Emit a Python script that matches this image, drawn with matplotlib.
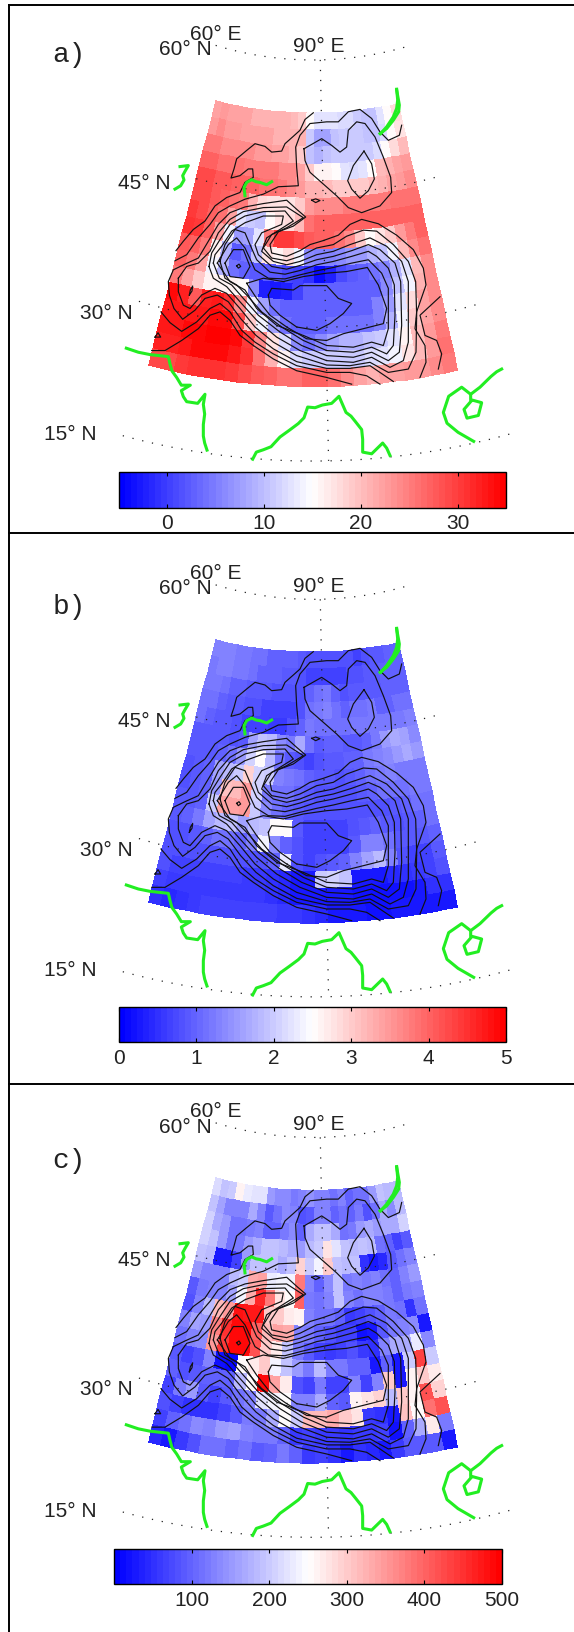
import numpy as np
import matplotlib
matplotlib.use('Agg')
import matplotlib.pyplot as plt
from matplotlib.colors import LinearSegmentedColormap

W = 574
H = 1633

# grid cell values, north to south, west to east
temp = [
    [22,23,22,22,22,21,21,21,21,21,20,19,15,13,13,13,12,12,11,10,10,13,15,18],
    [23,24,23,23,22,22,22,22,21,21,21,21,11,7.5,8,10,11,11,11,10,10,12,15,17],
    [25,25,24,24,24,24,23,23,22,22,21,19,10,9,10,11,11,11,11,11,12,15,18,20],
    [27,27,26,26,26,25,25,25,25,24,24,22,19,16,16,15,13,12,13,15,20,21,22,23],
    [29,29,28,28,27,27,27,26,26,25,24,23,21,21,20,19,19,19,19,20,21,22,23,24],
    [29,29,28,27,26,25,21,18,17,17,17,19,23,24,24,24,25,25,25,25,25,26,26,26],
    [30,29,27,26,22,13,11,10,15,17,18,20,26,27,27,27,27,27,27,27,27,27,27,27],
    [31,30,27,22,14,7,8,13,25,30,30,29,28,27,27,26,24,19,15,17,19,23,25,27],
    [28,27,25,16,9,2,4,10,17,16,18,14,6,5,5,6,7,7,9,10,14,20,24,26],
    [27,25,22,14,9,4,3,2,2,2,1,0,-1,-4,-2,1,2,3,4,5,9,13,20,24],
    [25,22,19,16,16,16,15,6,-2,-3,-2,0,3,3,3,3,3,3,3,6,10,14,21,24],
    [34,32,28,32,33,31,24,14,8,4,3,3,3,3,3,3,3,3,5,7,13,18,22,24],
    [33,33,33,33,34,34,29,19,14,8,4,3,3,3,4,4,4,4,5,9,14,19,22,24],
    [33,33,34,34,35,35,34,30,24,17,12,6,4,6,8,9,9,10,11,13,16,20,23,25],
    [32,32,33,34,34,34,33,31,26,21,16,12,11,11,11,11,11,12,13,14,17,20,23,26],
    [29,29,30,31,31,31,30,29,28,27,26,26,27,27,26,24,22,21,22,22,23,23,24,25],
]
rmse = [
    [1.3,1.3,1.3,1.2,1.2,1.1,1.1,1.0,1.0,1.0,1.0,.9,.8,.8,.8,.8,.8,.8,.7,.8,.9,.9,1.0,1.0],
    [1.2,1.3,1.3,1.2,1.2,1.1,1.0,1.0,1.0,.9,.9,.8,.7,.7,.7,.7,.7,.8,.8,.9,.9,1,1,1],
    [1.2,1.2,1.1,1,1,.9,.9,.9,.8,.8,.8,.8,1.0,1.1,1.2,1.0,.8,.9,.9,.9,.9,1,1,1],
    [1.1,1.1,1,.9,.9,.8,.8,.7,.7,.7,.7,.8,1.1,1.2,1.3,1.1,1,1.1,1.1,1.2,1.0,1.0,1.1,1.1],
    [1.1,1,.9,.9,.8,.7,.7,.7,.6,.6,.8,1,1.2,1.1,1.1,1.1,1.1,1.2,1.2,1.2,1.2,1.2,1.2,1.3],
    [.9,.9,.9,.9,.8,.9,1.6,1.9,1.8,1.4,1.2,1.7,1.1,.9,1.0,1.0,.9,.9,1.0,1.2,1.5,1.7,1.6,1.4],
    [.9,.9,.9,1,1.1,1.5,2.1,2.5,1.8,1.1,.9,.8,.7,.8,.9,.9,1,1,1.2,1.3,1.4,1.5,1.7,1.5],
    [.8,.9,1,1.6,1.8,2.0,2.9,2.1,2.0,1.3,1.2,1.1,1.0,.9,.9,.8,.9,1,1.1,1.2,1.3,1.2,1.2,1.2],
    [.8,.9,1,1.5,3.1,3.2,3.5,2.1,1.2,1.1,1.1,1.0,.9,.8,.8,.8,.8,.9,1,1.1,1.1,1.1,1.2,1.2],
    [.9,.9,1,2,3.4,3.4,3.5,2.0,1.4,1.1,1,.9,.8,.8,.8,.8,.8,.8,.8,.8,.9,1,1.1,1.1],
    [.9,1,1.2,1.6,1.8,1.9,1.6,1.8,1.9,2.5,2.5,.9,.7,.7,.7,.7,.8,.9,1,.9,.8,.9,1,1.1],
    [.8,.8,.9,1,1.1,1.1,1.0,1.3,2.4,1.4,1.0,.8,.7,.7,.7,.7,.9,1.3,1.3,1.1,.9,.9,.9,1],
    [.8,.8,.8,.8,.8,.8,.8,.8,.8,1,2.3,.8,.7,.8,.9,1,1.3,1.6,1.8,1.3,.8,.7,.7,.9],
    [.8,.7,.7,.7,.7,.7,.7,.6,.6,.5,.4,.3,.3,2.0,2.1,1.9,.3,.3,.3,.4,.5,.6,.7,.8],
    [.7,.6,.6,.6,.6,.6,.6,.6,.6,.5,.4,.3,.3,.3,.3,.3,.2,.2,.2,.2,.2,.3,.5,.5],
    [.5,.4,.5,.6,.7,.7,.7,.7,.7,.7,.6,.6,.5,.4,.3,.3,.3,.2,.2,.3,.3,.3,.3,.3],
]
precip = [
    [215,190,200,265,230,220,225,150,140,140,120,130,145,130,125,110,130,100,115,110,150,190,180,180],
    [190,160,130,130,130,170,130,90,110,140,130,80,90,130,130,100,110,100,120,85,110,170,140,180],
    [210,170,150,110,110,120,130,100,100,120,140,100,170,190,190,170,110,120,150,170,150,170,170,210],
    [210,190,150,110,120,150,170,190,190,180,170,150,180,200,280,220,190,180,190,180,110,100,70,90],
    [190,180,30,25,70,150,190,190,190,170,190,290,200,240,300,190,180,190,50,30,40,90,110,130],
    [150,130,130,130,180,200,330,340,230,240,240,380,130,100,140,190,120,130,120,130,110,100,130,150],
    [90,120,130,130,160,240,330,460,380,280,250,400,120,110,130,190,130,110,130,130,120,100,120,130],
    [80,130,180,320,350,480,470,470,300,300,270,260,130,110,110,100,60,70,80,100,120,110,50,110],
    [130,160,150,370,450,490,490,400,320,340,330,130,120,100,80,70,70,20,30,90,120,130,140,30],
    [110,130,140,350,440,490,490,420,300,270,190,120,90,70,60,70,80,60,50,130,170,170,230,140],
    [90,70,80,130,20,10,250,270,300,240,190,150,120,180,120,120,100,100,30,100,30,200,430,200],
    [100,80,90,100,100,100,180,250,490,340,270,80,70,120,70,70,130,70,130,300,30,260,300,270],
    [70,120,150,90,70,90,110,130,220,240,250,130,130,170,100,90,260,280,290,180,300,260,420,290],
    [80,70,50,50,50,70,90,120,120,170,250,200,320,320,330,300,280,60,50,30,310,250,390,420],
    [70,100,110,140,130,150,160,130,120,120,100,60,70,60,60,50,60,60,70,20,100,170,270,120],
    [40,30,60,80,110,110,100,110,90,100,120,100,60,70,50,30,50,40,30,60,90,90,90,30],
]

# terrain contours and coast, read in map units
contour_lines = [
    [(550,98),(525,118),(510,150),(490,168),(465,190),(455,212),(425,215),(405,198),(375,190),(350,210),(320,235),(312,265),(303,292),(330,285),(355,265),(368,265),(370,290),(345,305),(330,335),(290,350),(255,375),(225,420),(190,445),(160,480),(138,508)],
    [(815,135),(808,165),(775,180),(750,155),(725,115),(690,88),(655,95),(625,125),(590,125),(540,130),(510,165),(497,200),(500,260),(505,315),(445,318),(400,340),(345,355),(300,375),(265,395),(240,430),(205,470),(170,520),(135,538)],
    [(522,205),(575,175),(605,195),(630,215),(650,200),(655,150),(680,125),(705,130),(735,170),(760,230),(782,290),(785,335),(750,375),(695,395),(655,380),(620,345),(580,310),(540,275),(525,240),(522,205)],
    [(702,212),(725,250),(733,295),(715,330),(690,352),(665,325),(653,300),(670,255),(702,212)],
    [(545,358),(557,354),(570,359),(557,365),(545,358)],
    [(178,640),(181,625),(188,613),(186,628),(178,640)],
    [(75,765),(84,752),(92,765),(75,765)],
    [(65,805),(105,805),(155,775),(205,740),(240,700),(270,690),(300,715),(330,760),(370,790),(430,830),(500,865),(590,885),(665,905)],
    [(93,690),(120,722),(155,748),(200,720),(240,680),(270,665),(300,690),(335,745),(375,780),(430,815),(500,850),(590,870),(660,870),(710,880),(750,905)],
    [(870,885),(888,840),(885,790),(855,740),(860,690),(888,610),(880,560),(850,505),(800,462),(745,428),(695,415),(660,430),(625,462),(580,478),(540,490),(510,508),(470,525),(425,515),(420,490),(445,452),(490,435),(527,408),(500,385),(470,358),(400,368),(345,378),(300,395),(265,430),(235,480),(205,530),(165,548),(130,565),(115,600),(118,640),(132,680),(158,712),(195,685),(225,650),(262,640),(295,660),(332,710),(378,760),(430,800),(500,838),(590,858),(660,858),(720,850),(790,897)],
    [(145,590),(145,630),(160,670),(180,680),(215,640),(255,620),(290,635),(330,680),(375,735),(430,780),(500,820),(590,848),(660,850),(720,840),(775,870),(835,860),(858,810),(860,700),(857,600),(835,540),(790,490),(740,450),(700,447),(650,465),(610,490),(560,500),(510,525),(470,538),(425,530),(400,500),(425,460),(470,440),(520,410),(470,378),(400,380),(340,392),(300,415),(265,455),(240,510),(205,545),(170,555),(145,590)],
    [(237,555),(250,590),(290,615),(330,660),(380,715),(440,765),(510,805),(590,835),(670,840),(725,825),(780,855),(820,835),(835,780),(835,600),(815,540),(770,495),(720,470),(660,490),(610,510),(560,520),(510,540),(470,550),(430,540),(395,510),(410,470),(450,445),(490,420),(465,390),(400,392),(345,405),(300,430),(270,475),(245,515),(237,555)],
    [(250,545),(268,590),(305,610),(340,650),(385,700),(450,750),(515,790),(590,820),(670,825),(725,810),(775,835),(808,810),(815,730),(812,600),(795,545),(750,505),(715,490),(665,508),(610,525),(560,535),(510,552),(470,563),(425,555),(385,520),(375,490),(395,455),(455,430),(460,405),(400,405),(345,425),(305,450),(275,495),(255,520),(250,545)],
    [(270,540),(285,590),(320,610),(350,640),(395,690),(455,735),(520,775),(590,805),(670,810),(725,795),(770,815),(790,790),(795,700),(793,610),(775,560),(740,525),(715,510),(665,525),(610,540),(560,550),(510,567),(465,578),(420,572),(380,535),(360,490),(345,455),(315,445),(285,490),(270,540)],
    [(262,545),(300,600),(345,625),(380,680),(440,730),(520,760),(590,790),(670,795),(725,780),(760,790),(775,740),(775,620),(755,575),(715,535),(665,545),(610,558),(560,568),(510,580),(465,592),(415,590),(375,565),(345,500),(320,470),(295,490),(262,545)],
    [(285,545),(310,505),(340,505),(360,555),(340,590),(300,585),(285,545)],
    [(350,605),(400,590),(460,600),(520,585),(590,575),(650,570),(712,558),(745,610),(770,680),(760,725),(700,740),(640,755),(590,775),(530,770),(470,735),(420,700),(380,650),(350,605)],
    [(415,640),(425,620),(490,625),(510,612),(590,612),(625,650),(665,665),(640,695),(600,725),(560,745),(500,735),(450,700),(420,670),(415,640)],
    [(320,553),(327,548),(332,555),(325,560),(320,553)],
    [(930,645),(870,700),(885,760),(920,775),(935,815),(925,860)],
]
coast_lines = [
    [(800,28),(803,60),(800,85),(790,110),(770,140),(752,160)],
    [(800,30),(808,75),(806,95),(790,120),(770,145),(750,160)],
    [(345,345),(342,320),(350,305),(365,297),(378,303),(390,305),(410,312),(425,303)],
    [(150,258),(175,255),(165,272),(158,285),(162,298),(152,315),(135,325)],
    [(-11,798),(25,810),(60,817),(115,823),(120,845),(126,866),(140,885),(154,908),(181,908),(154,924),(160,942),(170,957),(203,962),(225,935),(220,965),(224,994),(220,1025),(220,1059),(224,1080),(231,1101)],
    [(368,1128),(379,1107),(400,1100),(423,1091),(450,1062),(478,1042),(505,1022),(522,1005),(533,973),(555,975),(577,967),(605,962),(627,941),(648,989),(663,1000),(676,1016),(695,1040),(698,1069),(698,1107),(725,1112),(758,1080),(770,1095),(780,1117)],
    [(1115,860),(1100,868),(1083,882),(1050,914),(1022,935),(995,914),(956,941),(940,989),(951,1021),(984,1048),(1031,1075)],
    [(1022,935),(1022,951),(1055,960),(1045,998),(1011,1006),(1002,980),(1022,957)],
]

# grid edges
lat_edges = np.linspace(54, 23.4, 17)
lon_edges = np.linspace(64, 109, 25)

# panel name, values, color limits, colorbar ticks, layout in pixels
panel_names = ['a)', 'b)', 'c)']
panel_data = [temp, rmse, precip]
color_limits = [(-5, 35), (0, 5), (0, 500)]
bar_ticks = [[0, 10, 20, 30], [0, 1, 2, 3, 4, 5], [100, 200, 300, 400, 500]]
frame_top = [6, 534, 1085]
frame_bottom = [534, 1085, 1640]
map_origin = [80.8, 620.0, 1158.2]
map_scale = [1.009, 1.0, 1.006]
bar_box = [(118.7, 506, 473.4, 508.6), (118.7, 506, 1008, 1043), (114.3, 502, 1550, 1585)]
name_y = [55, 607, 1161]

parallels = [60, 45, 30, 15]
parallel_start = [60, 64, 60, 63]
tick_names = ['60° E', '60° N', '90° E', '45° N', '30° N', '15° N']
tick_pos = [(258, -139), (165, -93), (566, -101), (44, 306), (-71, 691), (-178, 1053)]


def project(lon, lat):
    # simple conic map
    r = 1011 + (60 - np.asarray(lat)) * 26.5
    t = np.radians(0.601 * (np.asarray(lon) - 90) + 1.2)
    return 549.6 + r * np.sin(t), -1070 + r * np.cos(t)


plt.rcParams['font.family'] = ['Liberation Sans', 'DejaVu Sans']
cmap = LinearSegmentedColormap.from_list('bwr64', ['#0000ff', '#ffffff', '#ff0000'], N=64)
fig = plt.figure(figsize=(W / 100, H / 100), dpi=100)

lon_grid, lat_grid = np.meshgrid(lon_edges, lat_edges)
map_x, map_y = project(lon_grid, lat_grid)

for i in range(3):
    top = frame_top[i]
    bot = frame_bottom[i]
    ax = fig.add_axes([9 / W, 1 - bot / H, (W - 9) / W, (bot - top) / H])
    ax.set_xlim((9 - 130) * 3, (W - 130) * 3)
    ax.set_ylim((bot - map_origin[i]) * 3 / map_scale[i], (top - map_origin[i]) * 3 / map_scale[i])
    ax.set_xticks([])
    ax.set_yticks([])
    ax.spines['right'].set_visible(False)
    ax.spines['bottom'].set_visible(False)
    for s in ['left', 'top']:
        ax.spines[s].set_linewidth(1.4)

    vmin, vmax = color_limits[i]
    mesh = ax.pcolormesh(map_x, map_y, np.array(panel_data[i]), cmap=cmap, vmin=vmin, vmax=vmax,
                         shading='flat', edgecolors='face', linewidth=0.3, zorder=1)

    for lat, start in zip(parallels, parallel_start):
        lons = np.linspace(start, 114.5, 120)
        px, py = project(lons, np.full(lons.shape, lat))
        ax.plot(px, py, color='#222222', lw=0.9, linestyle=(0, (1, 7)), zorder=2)
    lats = np.linspace(60, 15, 120)
    px, py = project(np.full(lats.shape, 90), lats)
    ax.plot(px, py, color='#222222', lw=0.9, linestyle=(0, (1, 7)), zorder=2)

    for line in contour_lines:
        xy = np.array(line)
        ax.plot(xy[:, 0], xy[:, 1], color='#111111', lw=0.85, zorder=3)
    for line in coast_lines:
        xy = np.array(line)
        ax.plot(xy[:, 0], xy[:, 1], color='#22ee22', lw=2.2, zorder=4)

    for name, pos in zip(tick_names, tick_pos):
        ax.text(pos[0], pos[1], name, fontsize=15, color='#222222', ha='center', va='center', zorder=5)

    fig.text(69 / W, 1 - name_y[i] / H, panel_names[i], family='Liberation Mono', fontsize=20,
             color='#222222', ha='center', va='center')

    x0, x1, y0, y1 = bar_box[i]
    cax = fig.add_axes([x0 / W, 1 - y1 / H, (x1 - x0) / W, (y1 - y0) / H])
    cb = fig.colorbar(mesh, cax=cax, orientation='horizontal', ticks=bar_ticks[i])
    cb.outline.set_linewidth(1.0)
    cax.tick_params(axis='x', direction='in', length=3, width=0.8, top=True, bottom=True,
                    labelsize=15, labelcolor='#222222', pad=4)

fig.savefig('out.png', dpi=100)
